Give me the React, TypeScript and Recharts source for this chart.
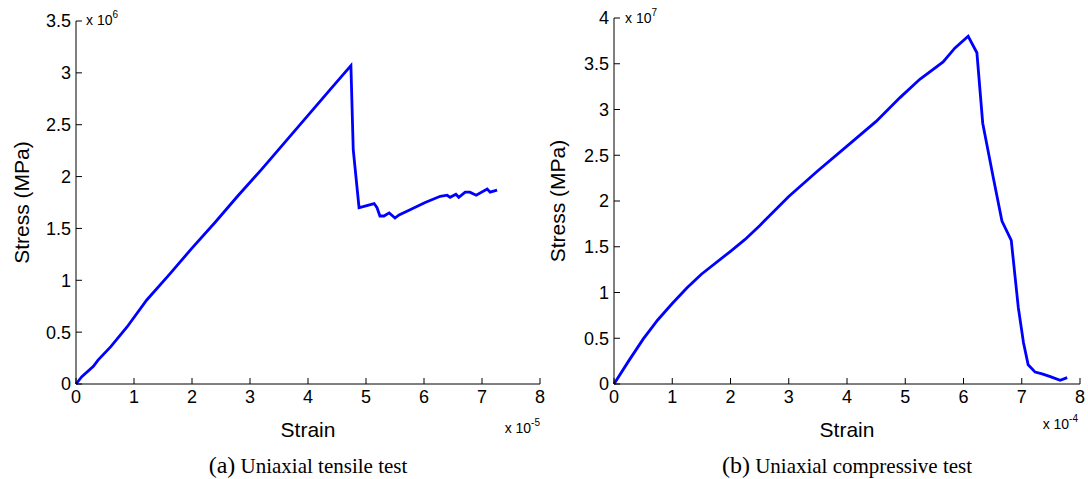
import { Line, LineChart, XAxis, YAxis } from "recharts"

// (a) uniaxial tensile test: strain x 1e-5, stress x 1e6
const tensileStrain = [
  0, 0.1, 0.3, 0.38, 0.6, 0.88, 1.22, 1.6, 2.0, 2.4, 2.8, 3.2, 3.6, 4.0, 4.4, 4.74, 4.78, 4.88, 4.95, 5.14,
  5.19, 5.24, 5.31, 5.4, 5.5, 5.57, 5.76, 6.02, 6.28, 6.4, 6.45, 6.55, 6.6, 6.71, 6.79, 6.9, 7.09, 7.14, 7.26,
]
const tensileStress = [
  0, 0.07, 0.17, 0.23, 0.36, 0.55, 0.81, 1.05, 1.31, 1.56, 1.82, 2.07, 2.33, 2.59, 2.85, 3.07, 2.26, 1.7, 1.71,
  1.74, 1.7, 1.62, 1.62, 1.65, 1.6, 1.63, 1.68, 1.75, 1.81, 1.82, 1.8, 1.83, 1.8, 1.85, 1.85, 1.82, 1.88, 1.85,
  1.87,
]

// (b) uniaxial compressive test: strain x 1e-4, stress x 1e7
const compStrain = [
  0, 0.25, 0.5, 0.75, 1.0, 1.25, 1.5, 2.0, 2.25, 2.5, 3.0, 3.5, 4.0, 4.5, 4.91, 5.25, 5.65, 5.85, 6.08, 6.23,
  6.33, 6.4, 6.51, 6.66, 6.82, 6.94, 7.03, 7.11, 7.23, 7.35, 7.49, 7.66, 7.78,
]
const compStress = [
  0, 0.25, 0.49, 0.7, 0.88, 1.05, 1.2, 1.45, 1.58, 1.73, 2.05, 2.33, 2.6, 2.87, 3.13, 3.33, 3.52, 3.67, 3.8,
  3.62, 2.85, 2.62, 2.26, 1.78, 1.57, 0.84, 0.45, 0.21, 0.13, 0.11, 0.08, 0.04, 0.07,
]

const strainTicks = [0, 1, 2, 3, 4, 5, 6, 7, 8]
const tensileTicks = [0, 0.5, 1, 1.5, 2, 2.5, 3, 3.5]
const compTicks = [0, 0.5, 1, 1.5, 2, 2.5, 3, 3.5, 4]

const tensileData = tensileStrain.map((x, i) => ({ x, y: tensileStress[i] }))
const compData = compStrain.map((x, i) => ({ x, y: compStress[i] }))

const sans = "'Liberation Sans', Arial, Helvetica, sans-serif"
const serif = "'Liberation Serif', 'Times New Roman', serif"
const tickStyle = { fill: "#000", fontSize: 18, fontFamily: sans }
const titleStyle = { fill: "#000", fontSize: 21, fontFamily: sans, textAnchor: "middle" as const }

function Panel({
  data,
  yTicks,
  yMax,
  width,
  top,
  right,
  yAxisWidth,
  yLabelOffset,
}: {
  data: { x: number; y: number }[]
  yTicks: number[]
  yMax: number
  width: number
  top: number
  right: number
  yAxisWidth: number
  yLabelOffset: number
}) {
  return (
    <LineChart width={width} height={479} data={data} margin={{ top, right, bottom: 0, left: 0 }}>
      <XAxis
        dataKey="x"
        type="number"
        domain={[0, 8]}
        ticks={strainTicks}
        height={95}
        tick={tickStyle}
        tickSize={-6}
        tickMargin={12}
        stroke="#000"
        interval={0}
        label={{ value: "Strain", position: "insideTop", offset: 38, style: titleStyle }}
      />
      <YAxis
        dataKey="y"
        type="number"
        domain={[0, yMax]}
        ticks={yTicks}
        width={yAxisWidth}
        tick={tickStyle}
        tickSize={-6}
        tickMargin={11}
        stroke="#000"
        interval={0}
        label={{ value: "Stress (MPa)", angle: -90, position: "insideLeft", offset: yLabelOffset, style: titleStyle }}
      />
      <Line dataKey="y" type="linear" stroke="#0000ff" strokeWidth={2.8} dot={false} isAnimationActive={false} />
    </LineChart>
  )
}

export default function App() {
  return (
    <div style={{ position: "absolute", left: 0, top: 0, width: 1088, height: 479, background: "#fff" }}>
      <div style={{ position: "absolute", left: 0, top: 0 }}>
        <Panel data={tensileData} yTicks={tensileTicks} yMax={3.5} width={560} top={21} right={20} yAxisWidth={76} yLabelOffset={22} />
      </div>
      <div style={{ position: "absolute", left: 540, top: 0 }}>
        <Panel data={compData} yTicks={compTicks} yMax={4} width={548} top={18} right={8} yAxisWidth={74} yLabelOffset={18} />
      </div>
      <svg
        width={1088}
        height={479}
        style={{ position: "absolute", left: 0, top: 0, pointerEvents: "none" }}
        fontFamily={sans}
      >
        <text x={86} y={25} fontSize={14}>
          x 10<tspan dy={-7} fontSize={10}>6</tspan>
        </text>
        <text x={625} y={23} fontSize={14}>
          x 10<tspan dy={-7} fontSize={10}>7</tspan>
        </text>
        <text x={540} y={433} fontSize={14} textAnchor="end">
          x 10<tspan dy={-7} fontSize={10}>-5</tspan>
        </text>
        <text x={1078} y={429} fontSize={14} textAnchor="end">
          x 10<tspan dy={-7} fontSize={10}>-4</tspan>
        </text>
        <text x={308} y={473} fontFamily={serif} textAnchor="middle" fontSize={21}>
          <tspan fontSize={24}>(a)</tspan> Uniaxial tensile test
        </text>
        <text x={847} y={473} fontFamily={serif} textAnchor="middle" fontSize={21}>
          <tspan fontSize={24}>(b)</tspan> Uniaxial compressive test
        </text>
      </svg>
    </div>
  )
}
